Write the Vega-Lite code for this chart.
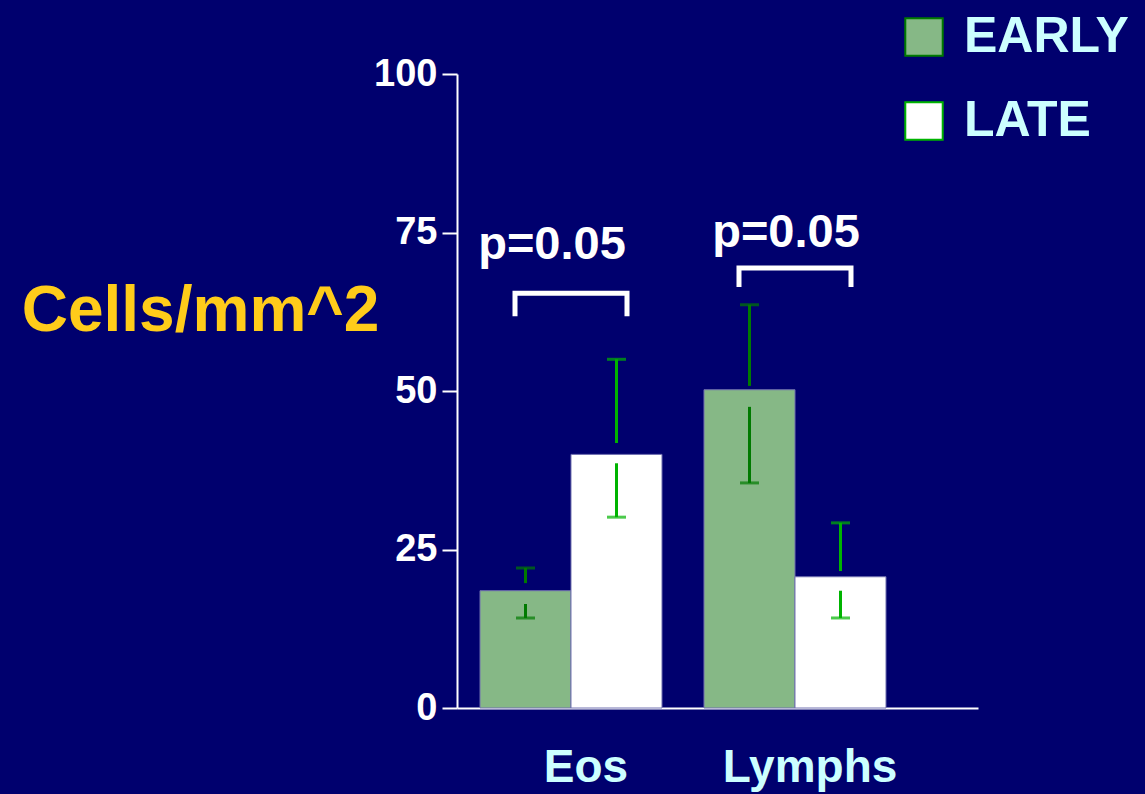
{
  "$schema": "https://vega.github.io/schema/vega-lite/v6.json",
  "width": 521,
  "height": 634,
  "autosize": {"type": "none"},
  "padding": {"left": 457, "top": 74, "right": 167, "bottom": 86},
  "background": "#00006e",
  "config": {
    "view": {"stroke": null},
    "font": "Liberation Sans"
  },
  "datasets": {
    "bars": [
      {"cell": "Eos", "period": "EARLY", "mean": 18.5, "hi": 22.1, "upEnd": 19.7, "loStart": 16.4, "lo": 14.2},
      {"cell": "Eos", "period": "LATE", "mean": 40.0, "hi": 55.0, "upEnd": 41.8, "loStart": 38.6, "lo": 30.1},
      {"cell": "Lymphs", "period": "EARLY", "mean": 50.2, "hi": 63.6, "upEnd": 50.8, "loStart": 47.5, "lo": 35.5},
      {"cell": "Lymphs", "period": "LATE", "mean": 20.7, "hi": 29.2, "upEnd": 21.6, "loStart": 18.5, "lo": 14.2}
    ],
    "brackets": [
      {"cell": "Eos", "side": "L", "y": 61.8, "k": 1},
      {"cell": "Eos", "side": "L", "y": 65.4, "k": 2},
      {"cell": "Eos", "side": "R", "y": 65.4, "k": 3},
      {"cell": "Eos", "side": "R", "y": 61.8, "k": 4},
      {"cell": "Lymphs", "side": "L", "y": 66.4, "k": 1},
      {"cell": "Lymphs", "side": "L", "y": 69.4, "k": 2},
      {"cell": "Lymphs", "side": "R", "y": 69.4, "k": 3},
      {"cell": "Lymphs", "side": "R", "y": 66.4, "k": 4}
    ],
    "pvals": [
      {"cell": "Eos", "y": 70.8, "label": "p=0.05"},
      {"cell": "Lymphs", "y": 72.7, "label": "p=0.05"}
    ]
  },
  "encoding": {
    "x": {
      "field": "cell", "type": "nominal",
      "scale": {"domain": ["Eos", "Lymphs"], "paddingInner": 0.1875, "paddingOuter": 0.2567, "align": 0.2},
      "axis": {
        "title": null, "labelAngle": 0, "ticks": false,
        "domainColor": "#ffffff", "domainWidth": 2,
        "labelColor": "#ccffff", "labelFont": "Liberation Sans", "labelFontWeight": "bold", "labelFontSize": 46,
        "labelPadding": 37, "labelOffset": 15
      }
    }
  },
  "resolve": {"scale": {"xOffset": "independent"}},
  "layer": [
    {
      "data": {"name": "bars"},
      "mark": {"type": "bar", "stroke": "#7070b0", "strokeWidth": 1},
      "encoding": {
        "xOffset": {"field": "period", "type": "nominal", "scale": {"domain": ["EARLY", "LATE"], "paddingInner": 0, "paddingOuter": 0}},
        "y": {
          "field": "mean", "type": "quantitative",
          "scale": {"domain": [0, 100], "nice": false, "zero": true},
          "axis": {
            "values": [0, 25, 50, 75, 100], "grid": false,
            "domainColor": "#ffffff", "domainWidth": 2,
            "tickColor": "#ffffff", "tickWidth": 2, "tickSize": 15,
            "labelColor": "#ffffff", "labelFont": "Liberation Sans", "labelFontWeight": "bold", "labelFontSize": 38, "labelPadding": 5,
            "title": "Cells/mm^2", "titleAngle": 0, "titleColor": "#ffcc1a", "titleFont": "Liberation Sans", "titleFontWeight": "bold", "titleFontSize": 64,
            "titleAlign": "center", "titleBaseline": "alphabetic", "titleX": -257, "titleY": 256
          }
        },
        "fill": {
          "field": "period", "type": "nominal",
          "scale": {"domain": ["EARLY", "LATE"], "range": ["#86b886", "#ffffff"]},
          "legend": {
            "title": null, "orient": "none", "legendX": 442, "legendY": -62, "padding": 0,
            "symbolType": "square", "symbolSize": 1400, "symbolStrokeColor": "#7faf7f", "symbolStrokeWidth": 2,
            "labelColor": "#ccffff", "labelFont": "Liberation Sans", "labelFontWeight": "bold", "labelFontSize": 50,
            "labelOffset": 15, "rowPadding": 34, "labelLimit": 400
          }
        }
      }
    },
    {
      "data": {"name": "bars"},
      "mark": {"type": "rule", "strokeWidth": 3},
      "encoding": {
        "xOffset": {"field": "period", "type": "nominal", "scale": {"domain": ["EARLY", "LATE"], "paddingInner": 0, "paddingOuter": 0}},
        "y": {"field": "hi", "type": "quantitative"},
        "y2": {"field": "upEnd"},
        "color": {"field": "period", "type": "nominal", "scale": {"domain": ["EARLY", "LATE"], "range": ["#007a00", "#00b400"]}, "legend": null}
      }
    },
    {
      "data": {"name": "bars"},
      "mark": {"type": "rule", "strokeWidth": 3},
      "encoding": {
        "xOffset": {"field": "period", "type": "nominal", "scale": {"domain": ["EARLY", "LATE"], "paddingInner": 0, "paddingOuter": 0}},
        "y": {"field": "loStart", "type": "quantitative"},
        "y2": {"field": "lo"},
        "color": {"field": "period", "type": "nominal", "legend": null}
      }
    },
    {
      "data": {"name": "bars"},
      "mark": {"type": "tick", "size": 19, "thickness": 3, "orient": "horizontal"},
      "encoding": {
        "xOffset": {"field": "period", "type": "nominal", "scale": {"domain": ["EARLY", "LATE"], "paddingInner": 0, "paddingOuter": 0}},
        "y": {"field": "hi", "type": "quantitative"},
        "color": {"field": "period", "type": "nominal", "legend": null}
      }
    },
    {
      "data": {"name": "bars"},
      "mark": {"type": "tick", "size": 19, "thickness": 3, "orient": "horizontal"},
      "encoding": {
        "xOffset": {"field": "period", "type": "nominal", "scale": {"domain": ["EARLY", "LATE"], "paddingInner": 0, "paddingOuter": 0}},
        "y": {"field": "lo", "type": "quantitative"},
        "color": {"field": "period", "type": "nominal", "legend": null}
      }
    },
    {
      "data": {"name": "brackets"},
      "mark": {"type": "line", "color": "#ffffff", "strokeWidth": 5, "strokeJoin": "miter", "strokeCap": "butt"},
      "encoding": {
        "xOffset": {"field": "side", "type": "nominal", "scale": {"type": "point", "domain": ["L", "R"], "padding": 0.3125}},
        "y": {"field": "y", "type": "quantitative"},
        "detail": {"field": "cell"},
        "order": {"field": "k", "type": "quantitative"}
      }
    },
    {
      "data": {"name": "pvals"},
      "transform": [{"filter": "datum.cell === 'Eos'"}],
      "mark": {"type": "text", "color": "#ffffff", "font": "Liberation Sans", "fontWeight": "bold", "fontSize": 47, "align": "center", "baseline": "alphabetic", "dx": -19},
      "encoding": {
        "y": {"field": "y", "type": "quantitative"},
        "text": {"field": "label"}
      }
    },
    {
      "data": {"name": "pvals"},
      "transform": [{"filter": "datum.cell === 'Lymphs'"}],
      "mark": {"type": "text", "color": "#ffffff", "font": "Liberation Sans", "fontWeight": "bold", "fontSize": 47, "align": "center", "baseline": "alphabetic", "dx": -9},
      "encoding": {
        "y": {"field": "y", "type": "quantitative"},
        "text": {"field": "label"}
      }
    }
  ]
}
